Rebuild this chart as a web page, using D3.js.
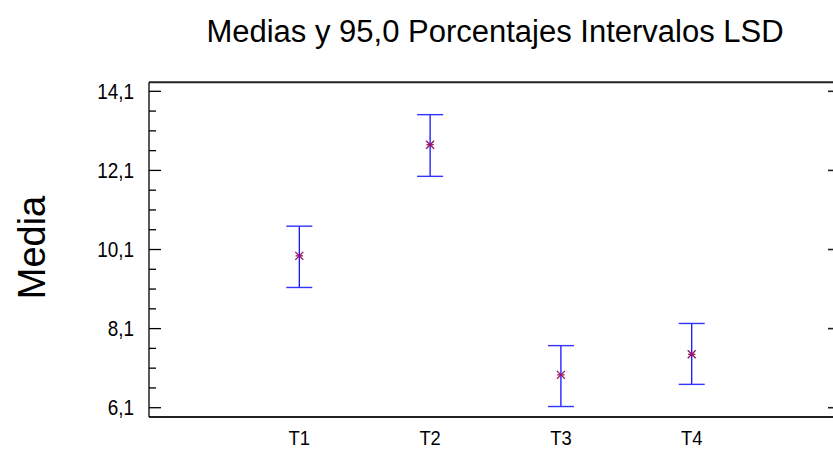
<!DOCTYPE html>
<html><head><meta charset="utf-8">
<script src="https://cdn.jsdelivr.net/npm/d3@7"></script>
<style>body{margin:0;background:#fff}svg{display:block}text{font-family:"Liberation Sans",Arial,sans-serif}</style>
</head><body><svg id="c" width="833" height="449"></svg>
<script>
const categories = ["T1","T2","T3","T4"];
const means = [9.94, 12.75, 6.93, 7.45];
const lower = [9.14, 11.95, 6.13, 6.69];
const upper = [10.69, 13.51, 7.67, 8.23];
const yTicks = [6.1, 8.1, 10.1, 12.1, 14.1];
const title = "Medias y 95,0 Porcentajes Intervalos LSD";
const yLabel = "Media";

const svg = d3.select("#c");
const L = 149, R = 833, T = 82.3, B = 417;
const x = d3.scaleLinear().domain([-0.149, 5.08]).range([L, R]);
const y = d3.scaleLinear().domain([5.865, 14.328]).range([B, T]);
const fmt = v => d3.format(".1f")(v).replace(".", ",");

// frame
svg.append("line").attr("x1",L).attr("x2",R).attr("y1",T).attr("y2",T).attr("stroke","#222").attr("stroke-width",2);
svg.append("line").attr("x1",L).attr("x2",R).attr("y1",B).attr("y2",B).attr("stroke","#222").attr("stroke-width",2);
svg.append("line").attr("x1",L).attr("x2",L).attr("y1",T).attr("y2",B).attr("stroke","#000").attr("stroke-width",1.3);

// minor ticks
const minor = d3.range(6.1, 14.1001, 0.5).filter(v => !yTicks.some(t => Math.abs(t - v) < 1e-6));
svg.selectAll(".mn").data(minor).enter().append("line")
  .attr("x1",L).attr("x2",L+7).attr("y1",d=>y(d)).attr("y2",d=>y(d)).attr("stroke","#000").attr("stroke-width",1.3);
// major ticks left
svg.selectAll(".mj").data(yTicks).enter().append("line")
  .attr("x1",L).attr("x2",L+12).attr("y1",d=>y(d)).attr("y2",d=>y(d)).attr("stroke","#000").attr("stroke-width",1.3);
// right ticks
svg.selectAll(".rt").data(yTicks).enter().append("line")
  .attr("x1",828).attr("x2",833).attr("y1",d=>y(d)).attr("y2",d=>y(d)).attr("stroke","#222").attr("stroke-width",1.6);
// tick labels (slightly condensed, as in the original)
svg.selectAll(".tl").data(yTicks).enter().append("text")
  .attr("transform",d=>`translate(134,${y(d)}) scale(0.88,1)`).attr("dy","0.36em").attr("text-anchor","end")
  .attr("font-size",21.5).attr("fill","#000").text(fmt);

// x labels
svg.selectAll(".xl").data(categories).enter().append("text")
  .attr("transform",(d,i)=>`translate(${x(i+1)},444.5) scale(0.92,1)`).attr("text-anchor","middle")
  .attr("font-size",20).attr("fill","#000").text(d=>d);

// error bars
const g = svg.selectAll(".eb").data(categories).enter().append("g");
g.append("line").attr("x1",(d,i)=>x(i+1)).attr("x2",(d,i)=>x(i+1))
  .attr("y1",(d,i)=>y(upper[i])).attr("y2",(d,i)=>y(lower[i])).attr("stroke","#0000ff").attr("stroke-width",1.2);
g.append("line").attr("x1",(d,i)=>x(i+1)-13).attr("x2",(d,i)=>x(i+1)+13)
  .attr("y1",(d,i)=>y(upper[i])).attr("y2",(d,i)=>y(upper[i])).attr("stroke","#3333ff").attr("stroke-width",1.4);
g.append("line").attr("x1",(d,i)=>x(i+1)-13).attr("x2",(d,i)=>x(i+1)+13)
  .attr("y1",(d,i)=>y(lower[i])).attr("y2",(d,i)=>y(lower[i])).attr("stroke","#3333ff").attr("stroke-width",1.4);
// mean markers (asterisk)
const s = 4;
g.each(function(d,i){
  const cx = x(i+1), cy = y(means[i]);
  const m = d3.select(this);
  [[-s,-s,s,s],[-s,s,s,-s],[-s*0.9,0,s*0.9,0]].forEach(p=>{
    m.append("line").attr("x1",cx+p[0]).attr("y1",cy+p[1]).attr("x2",cx+p[2]).attr("y2",cy+p[3])
      .attr("stroke","#99115f").attr("stroke-width",1.3);
  });
});

// title
svg.append("text").attr("x",495).attr("y",42).attr("text-anchor","middle")
  .attr("font-size",31).attr("fill","#000").text(title);
// y label
svg.append("text").attr("transform","translate(45,247.5) rotate(-90)")
  .attr("text-anchor","middle").attr("font-size",38).attr("fill","#000").text(yLabel);
</script></body></html>
